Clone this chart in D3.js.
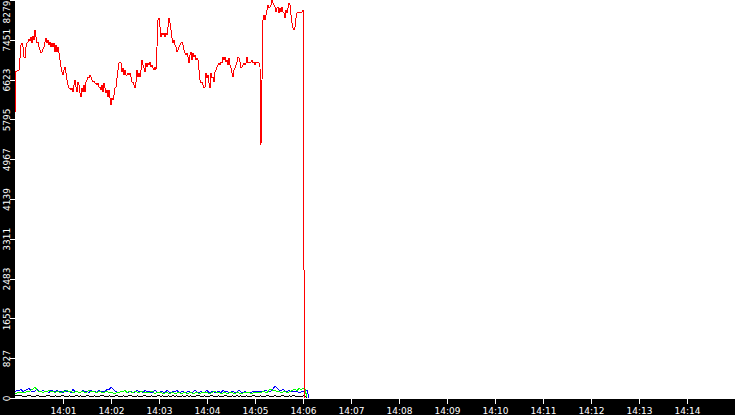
<html>
<head>
    <title>Chart</title>
    <style>
        body{ margin:0; background:#fff; }
        .band{ fill:#000; }
        .axis .domain{ display:none; }
        .axis .tick line{ stroke:#fff; shape-rendering:crispEdges; }
        .axis .tick text{ fill:#fff; font-family:"DejaVu Sans"; font-size:9px; }
        .series{ fill:none; stroke-width:1; shape-rendering:crispEdges; }
    </style>
</head>
<body>
<script src="https://d3js.org/d3.v7.min.js"></script>
<script>
// y axis labels, top value is 8279
var yMax = 8279;
var yTickLabels = ["0","827","1655","2483","3311","4139","4967","5795","6623","7451","8279"];
var xTickLabels = ["14:01","14:02","14:03","14:04","14:05","14:06","14:07","14:08","14:09","14:10","14:11","14:12","14:13","14:14"];

// red series, one sample every 1.25 s from 14:00:00
var redStep = 1.25;
var redValues = [
 5928,6802,6802,6822,6822,7072,7342,7384,7301,7093,
 7072,7301,7384,7405,7467,7426,7509,7384,7530,7446,
 7654,7509,7384,7405,7301,7238,7176,7197,7259,7301,
 7405,7488,7384,7446,7342,7405,7301,7384,7301,7384,
 7197,7342,7197,7301,7176,7030,6885,6781,6718,6822,
 6885,6760,6614,6510,6448,6448,6406,6448,6365,6510,
 6614,6469,6365,6573,6510,6344,6261,6448,6365,6510,
 6365,6573,6614,6677,6656,6718,6677,6614,6573,6594,
 6552,6552,6510,6552,6469,6469,6406,6510,6365,6552,
 6448,6344,6406,6261,6406,6240,6094,6240,6198,6302,
 6448,6469,6656,6822,6968,6989,6968,6781,6864,6718,
 6822,6718,6718,6760,6718,6760,6677,6573,6573,6510,
 6448,6573,6822,6677,6760,6677,6822,7030,6926,6864,
 6781,6968,6885,6968,6926,6989,6885,6926,6864,6822,
 6885,6822,7301,7862,7904,7717,7509,7592,7550,7592,
 7509,7592,7550,7717,7904,7800,7654,7488,7384,7446,
 7342,7301,7197,7238,7301,7342,7384,7405,7342,7238,
 7176,7134,7176,7093,6968,7134,7197,7030,7176,7093,
 7134,7030,7072,7030,6822,6614,6552,6573,6510,6448,
 6469,6760,6656,6718,6552,6448,6760,6656,6677,6573,
 6781,6822,6885,6926,6968,6926,6989,6968,7093,7030,
 7093,6989,7030,6926,7072,6926,6864,6760,6677,6822,
 6864,6926,6989,7093,7072,6989,6864,6885,6926,6968,
 6926,6968,7093,6968,6989,6968,6989,7030,6968,6989,
 6926,6989,6968,6989,6968,6885,5262,6614,7862,7966,
 7862,7966,8070,8174,8112,8133,8174,8278,8216,8174,
 8133,8029,8112,8133,8008,8112,8029,8133,8029,8008,
 7904,8070,8008,8112,8216,8174,7966,7800,7696,7654,
 7717,7904,8008,8029,8008,8029,8008,8029,8070,2663,
 0
];

// low series, one sample every 2.5 s from 14:00:00
var lowStep = 2.5;
var blueValues = [
 125,166,146,187,121,163,170,208,142,128,149,187,144,125,166,121,146,104,168,142,
 127,166,121,146,104,162,125,149,104,187,121,146,108,125,166,121,142,104,164,125,
 146,100,168,121,146,125,187,166,229,187,146,125,104,146,121,166,104,125,146,104,
 125,166,121,146,104,162,125,146,104,125,166,121,104,146,125,104,166,125,104,146,
 121,166,104,125,146,104,125,146,104,121,166,125,104,146,104,125,166,104,125,146,
 104,121,146,104,166,125,146,104,125,146,104,121,166,125,104,146,100,125,104,146,
 125,146,121,146,125,166,146,125,146,187,250,208,166,146,187,146,125,166,125,146,
 125,146,104,125,146,125,166,0
];
var greenValues = [
 83,104,125,104,125,104,146,125,166,187,229,166,125,146,104,146,125,166,125,146,
 104,146,125,104,146,125,166,125,146,104,125,146,104,125,146,104,125,166,125,146,
 125,104,146,125,104,125,146,104,125,104,83,125,104,146,125,166,104,146,125,104,
 146,125,104,146,125,104,125,104,146,125,83,125,104,125,83,104,125,83,104,125,
 83,104,125,83,104,125,83,104,125,83,104,125,83,104,125,104,125,83,104,125,
 146,104,125,83,104,125,83,104,125,104,83,125,104,83,104,125,104,125,83,104,
 125,104,125,104,146,125,104,166,187,146,166,125,146,104,125,146,104,125,146,166,
 187,146,208,166,208,187,0
];
var blackValues = [
 52,48,42,44,40,38,42,46,42,36,40,44,42,38,34,40,42,44,40,38,
 42,40,36,42,44,40,38,42,40,36,42,44,40,42,38,40,44,42,36,40,
 42,38,40,44,42,40,36,42,40,38,42,44,40,36,42,40,38,44,42,40,
 36,42,40,38,42,44,40,36,42,40,38,42,44,40,42,36,40,42,38,44,
 40,42,36,40,42,38,44,40,42,36,40,42,44,38,40,42,36,40,44,42,
 38,40,42,36,40,44,42,38,40,42,36,44,40,42,38,40,42,36,40,44,
 42,38,40,42,36,40,44,42,38,40,42,40,36,42,44,40,38,42,40,44,
 42,38,40,36,42,40,0
];

var width = 735, height = 415;
var plotLeft = 15, plotBottom = 399;
var startTime = new Date(2000, 0, 1, 14, 0, 0);
var endTime = new Date(2000, 0, 1, 14, 15, 0);

var svgContainer = d3.select("body").append("svg")
                                    .attr("width", width)
                                    .attr("height", height);

var x = d3.scaleTime().domain([startTime, endTime]).range([plotLeft, width]);
var y = d3.scaleLinear().domain([0, yMax]).range([398, 0]);

function toPoints(values, step){
    return values.map(function(v, i){
        return [new Date(startTime.getTime() + i*step*1000), v];
    });
}

// black bands for the axes
svgContainer.append("rect").attr("class","band")
            .attr("x",0).attr("y",0).attr("width",plotLeft).attr("height",height);
svgContainer.append("rect").attr("class","band")
            .attr("x",0).attr("y",plotBottom).attr("width",width).attr("height",height-plotBottom);

var line = d3.line().x(function(d){ return x(d[0]); }).y(function(d){ return y(d[1]); });

var series = [
    [blueValues, lowStep, "#0000ff"],
    [greenValues, lowStep, "#00ff00"],
    [blackValues, lowStep, "#000000"],
    [redValues, redStep, "#ff0000"]
];
series.forEach(function(s){
    svgContainer.append("path")
                .attr("class","series")
                .attr("stroke", s[2])
                .attr("d", line(toPoints(s[0], s[1])));
});

// x axis
var xTicks = xTickLabels.map(function(t){
    var p = t.split(":");
    return new Date(2000, 0, 1, +p[0], +p[1], 0);
});
var xAxis = svgContainer.append("g")
                        .attr("class","axis")
                        .attr("transform","translate(0," + plotBottom + ")")
                        .call(d3.axisBottom(x).tickValues(xTicks)
                                .tickFormat(function(d, i){ return xTickLabels[i]; })
                                .tickSize(5).tickPadding(2));
xAxis.selectAll("text").attr("y", 15).attr("dy", null);

// y axis, labels turned on their side
var yTicks = yTickLabels.map(function(t, i){ return yMax*i/10; });
var yAxis = svgContainer.append("g")
                        .attr("class","axis")
                        .attr("transform","translate(" + plotLeft + ",0)")
                        .call(d3.axisLeft(y).tickValues(yTicks)
                                .tickFormat(function(d, i){ return yTickLabels[i]; })
                                .tickSize(5));
yAxis.selectAll("text")
     .attr("x", null).attr("dy", null)
     .attr("text-anchor", function(d, i){ return i == yTicks.length-1 ? "end" : "middle"; })
     .attr("transform","translate(-5.5,0) rotate(-90)");

</script>
</body>
</html>
